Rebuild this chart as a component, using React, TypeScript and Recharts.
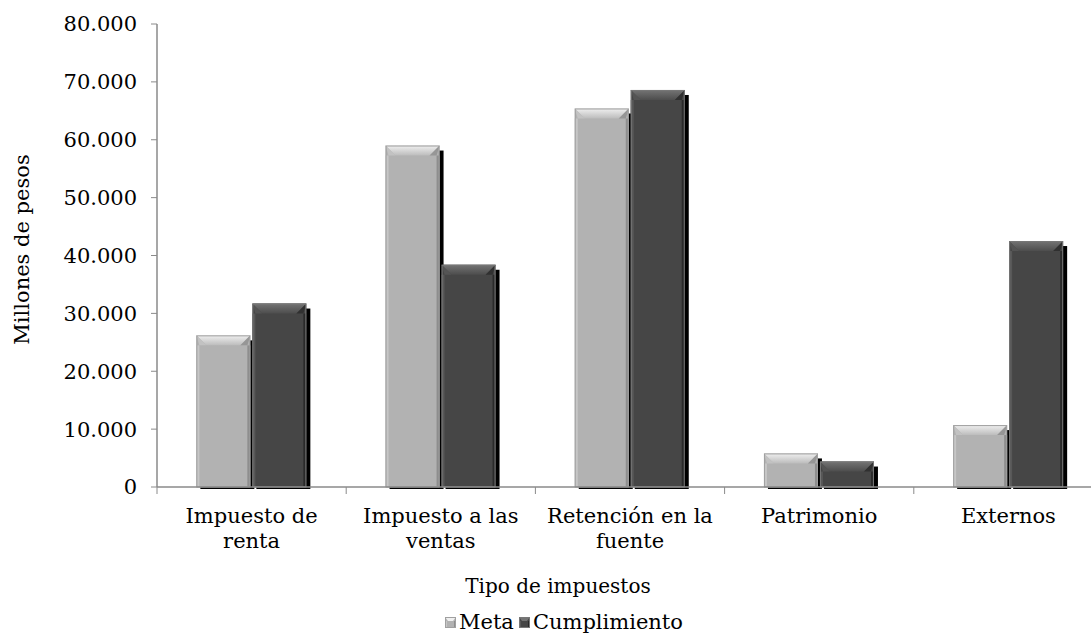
import { BarChart, Bar, XAxis, YAxis } from "recharts";

const categories = [
  "Impuesto de renta",
  "Impuesto a las ventas",
  "Retención en la fuente",
  "Patrimonio",
  "Externos",
];
const meta = [26200, 59000, 65400, 5800, 10700];
const cumplimiento = [31700, 38400, 68600, 4400, 42500];
const yTicks = [0, 10000, 20000, 30000, 40000, 50000, 60000, 70000, 80000];

const data = categories.map((name, i) => ({
  name,
  meta: meta[i],
  cumplimiento: cumplimiento[i],
}));

const FONT = "'DejaVu Serif', serif";
const AXIS = "#8a8a8a";

type Palette = {
  base: string;
  topA: string;
  topB: string;
  left: string;
  right: string;
  edge: string;
};

const META_PAL: Palette = {
  base: "#b2b2b2",
  topA: "#f0f0f0",
  topB: "#bcbcbc",
  left: "#c6c6c6",
  right: "#8e8e8e",
  edge: "#a0a0a0",
};
const CUMP_PAL: Palette = {
  base: "#464646",
  topA: "#747474",
  topB: "#4d4d4d",
  left: "#585858",
  right: "#2a2a2a",
  edge: "#777777",
};

const fmt = (v: number) =>
  String(v).replace(/\B(?=(\d{3})+(?!\d))/g, ".");

const wrap = (text: string, max = 15) => {
  const lines: string[] = [];
  let cur = "";
  text.split(" ").forEach((w) => {
    const next = cur ? cur + " " + w : w;
    if (next.length > max && cur) {
      lines.push(cur);
      cur = w;
    } else cur = next;
  });
  if (cur) lines.push(cur);
  return lines;
};

const BevelBar = (props: any) => {
  const { x, y, width: w, height: h, pal, id } = props;
  if (!w || !h || h <= 0) return null;
  const t = Math.min(10, h / 2);
  const s = 3;
  return (
    <g>
      <defs>
        <linearGradient id={`top-${id}`} x1="0" y1="0" x2="0" y2="1">
          <stop offset="0%" stopColor={pal.topA} />
          <stop offset="100%" stopColor={pal.topB} />
        </linearGradient>
      </defs>
      <rect x={x + 4} y={y + 5} width={w} height={Math.max(0, h - 3)} fill="#000" />
      <rect x={x} y={y} width={w} height={h} fill={pal.base} />
      <polygon
        points={`${x},${y + t} ${x + s},${y + t} ${x + s},${y + h} ${x},${y + h}`}
        fill={pal.left}
      />
      <polygon
        points={`${x + w - s},${y + t} ${x + w},${y + t} ${x + w},${y + h} ${x + w - s},${y + h}`}
        fill={pal.right}
      />
      <polygon
        points={`${x},${y} ${x + w},${y} ${x + w - t},${y + t} ${x + t},${y + t}`}
        fill={`url(#top-${id})`}
      />
      <polygon
        points={`${x},${y} ${x + t},${y + t} ${x + s},${y + t}`}
        fill={pal.left}
        opacity={0.8}
      />
      <polygon
        points={`${x + w},${y} ${x + w - t},${y + t} ${x + w - s},${y + t}`}
        fill={pal.right}
        opacity={0.8}
      />
      <rect
        x={x + 0.5}
        y={y + 0.5}
        width={w - 1}
        height={h - 0.5}
        fill="none"
        stroke={pal.edge}
        strokeWidth={1}
      />
    </g>
  );
};

const CategoryTick = (props: any) => {
  const { x, y, payload, index } = props;
  const half = payload?.offset ?? 94.6;
  const lines = wrap(String(payload.value));
  return (
    <g>
      <line x1={x - half} y1={y - 9} x2={x - half} y2={y - 2} stroke={AXIS} />
      {index === categories.length - 1 && (
        <line x1={x + half} y1={y - 9} x2={x + half} y2={y - 2} stroke={AXIS} />
      )}
      <text x={x} y={y} textAnchor="middle" fontFamily={FONT} fontSize={21} fill="#000">
        {lines.map((l, i) => (
          <tspan key={i} x={x} dy={i === 0 ? 27 : 25}>
            {l}
          </tspan>
        ))}
      </text>
    </g>
  );
};

const LegendIcon = ({ pal }: { pal: Palette }) => (
  <svg width={11} height={11} style={{ marginRight: 3 }}>
    <rect x={0} y={0} width={11} height={11} fill={pal.base} />
    <polygon points="0,0 11,0 8,4 3,4" fill={pal.topA} />
    <rect x={0} y={4} width={2} height={7} fill={pal.left} />
    <rect x={9} y={4} width={2} height={7} fill={pal.right} />
    <rect x={0.5} y={0.5} width={10} height={10} fill="none" stroke={pal.edge} />
  </svg>
);

export default function App() {
  return (
    <div
      style={{
        position: "absolute",
        left: 0,
        top: 0,
        width: 1091,
        height: 637,
        overflow: "hidden",
        background: "#fff",
        fontFamily: FONT,
      }}
    >
      <BarChart
        width={1105}
        height={637}
        data={data}
        margin={{ top: 24, right: 2, left: 0, bottom: 90 }}
        barCategoryGap="20.8%"
        barGap={2}
      >
        <XAxis
          dataKey="name"
          interval={0}
          tickLine={false}
          tickSize={7}
          tickMargin={2}
          axisLine={{ stroke: AXIS, strokeWidth: 1.5 }}
          height={60}
          tick={<CategoryTick />}
        />
        <YAxis
          width={157}
          domain={[0, 80000]}
          ticks={yTicks}
          interval={0}
          tickFormatter={fmt}
          tickSize={6}
          tickMargin={14}
          tickLine={{ stroke: AXIS }}
          axisLine={{ stroke: AXIS, strokeWidth: 1.5 }}
          tick={{ fill: "#000", fontSize: 21, fontFamily: FONT }}
          label={{
            content: (p: any) => {
              const vb = p.viewBox || { x: 0, y: 24, width: 157, height: 463 };
              const cx = vb.x + 22;
              const cy = vb.y + vb.height / 2 - 6;
              return (
                <text
                  x={cx}
                  y={cy}
                  transform={`rotate(-90 ${cx} ${cy})`}
                  textAnchor="middle"
                  dominantBaseline="central"
                  fontFamily={FONT}
                  fontSize={21}
                  fill="#000"
                >
                  Millones de pesos
                </text>
              );
            },
          }}
        />
        <Bar
          dataKey="meta"
          name="Meta"
          isAnimationActive={false}
          fill={META_PAL.base}
          shape={(p: any) => <BevelBar {...p} pal={META_PAL} id={`m${p.index}`} />}
        />
        <Bar
          dataKey="cumplimiento"
          name="Cumplimiento"
          isAnimationActive={false}
          fill={CUMP_PAL.base}
          shape={(p: any) => <BevelBar {...p} pal={CUMP_PAL} id={`c${p.index}`} />}
        />
      </BarChart>
      <div
        style={{
          position: "absolute",
          left: 0,
          width: 1116,
          top: 573,
          textAlign: "center",
          fontSize: 20,
          color: "#000",
          lineHeight: "26px",
        }}
      >
        Tipo de impuestos
      </div>
      <div
        style={{
          position: "absolute",
          left: 445,
          top: 609,
          display: "flex",
          alignItems: "center",
          fontSize: 21,
          color: "#000",
          whiteSpace: "nowrap",
          lineHeight: "26px",
        }}
      >
        <LegendIcon pal={META_PAL} />
        <span style={{ marginRight: 5 }}>Meta</span>
        <LegendIcon pal={CUMP_PAL} />
        <span>Cumplimiento</span>
      </div>
    </div>
  );
}
